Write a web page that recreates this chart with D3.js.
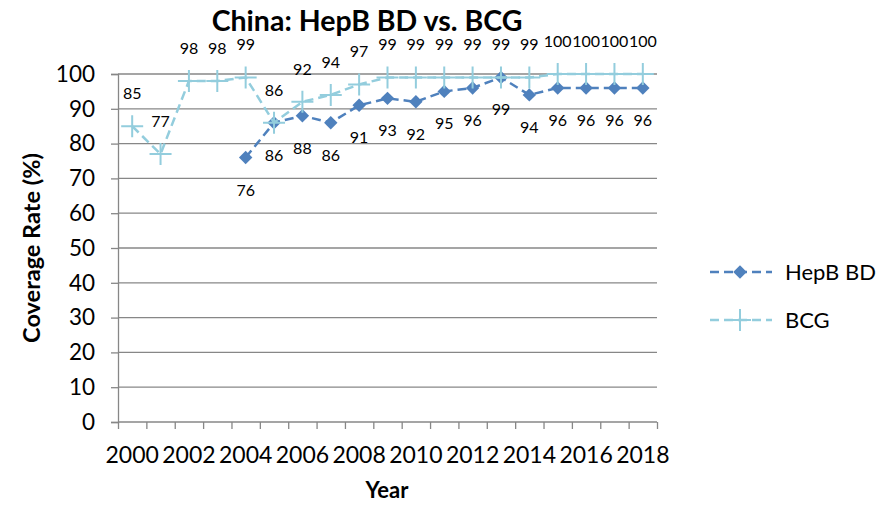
<!DOCTYPE html>
<html lang="en">
<head>
<meta charset="UTF-8">
<title>China: HepB BD vs. BCG</title>
<script src="https://cdn.jsdelivr.net/npm/d3@7"></script>
<style>
  body { margin: 0; background: #fff; }
  svg text { font-family: Lato, "Open Sans", sans-serif; fill: #000; }
</style>
</head>
<body>
<svg id="chart" width="882" height="505"></svg>
<script>
// data
const years = d3.range(2000, 2019);
const hepbYears = d3.range(2004, 2019);
const hepbValues = [76, 86, 88, 86, 91, 93, 92, 95, 96, 99, 94, 96, 96, 96, 96];
const bcgValues = [85, 77, 98, 98, 99, 86, 92, 94, 97, 99, 99, 99, 99, 99, 99, 100, 100, 100, 100];
const yTicks = d3.range(0, 101, 10);
const xLabels = years.filter(d => d % 2 === 0);

const svg = d3.select('#chart');
const plot = {left: 118, right: 657, top: 74, bottom: 422};

const x = d3.scaleBand().domain(years).range([plot.left, plot.right]);
const xEdge = d3.scaleLinear().domain([0, years.length]).range([plot.left, plot.right]);
const y = d3.scaleLinear().domain([0, 100]).range([plot.bottom, plot.top]);
const cx = d => x(d) + x.bandwidth() / 2;

const gridColor = '#878787';
const hepbColor = '#4f81bd';
const bcgColor = '#93cddd';

// gridlines
svg.append('g').selectAll('line').data(yTicks.filter(d => d > 0)).join('line')
  .attr('x1', plot.left).attr('x2', plot.right)
  .attr('y1', d => y(d)).attr('y2', d => y(d))
  .attr('stroke', gridColor).attr('stroke-width', 1.3);

// y axis
const yAxis = svg.append('g').attr('transform', `translate(${plot.left},0)`)
  .call(d3.axisLeft(y).tickValues(yTicks).tickSize(7).tickPadding(16));
yAxis.select('.domain').attr('stroke', gridColor).attr('stroke-width', 1.3);
yAxis.selectAll('.tick line').attr('stroke', gridColor).attr('stroke-width', 1.3);
yAxis.selectAll('.tick text').attr('font-size', 22.5).attr('font-family', null);

// x axis: ticks between categories, labels every two years
const xTickAxis = svg.append('g').attr('transform', `translate(0,${plot.bottom})`)
  .call(d3.axisBottom(xEdge).tickValues(d3.range(0, years.length + 1)).tickSize(7).tickFormat(''));
xTickAxis.select('.domain').attr('stroke', gridColor).attr('stroke-width', 1.3)
  .attr('d', `M${plot.left},0H${plot.right}`);
xTickAxis.selectAll('.tick line').attr('stroke', gridColor).attr('stroke-width', 1.3);

const xLabelAxis = svg.append('g').attr('transform', `translate(0,${plot.bottom})`)
  .call(d3.axisBottom(x).tickValues(xLabels).tickSize(0).tickPadding(25));
xLabelAxis.select('.domain').remove();
xLabelAxis.selectAll('.tick text').attr('font-size', 23).attr('font-family', null);

// axis titles
svg.append('text').attr('x', 387).attr('y', 498).attr('text-anchor', 'middle')
  .attr('font-size', 22).attr('font-weight', 'bold').text('Year');
svg.append('text').attr('transform', 'translate(40,248) rotate(-90)').attr('text-anchor', 'middle')
  .attr('font-size', 23.5).attr('font-weight', 'bold').text('Coverage Rate (%)');

// title
svg.append('text').attr('x', 367).attr('y', 31).attr('text-anchor', 'middle')
  .attr('font-size', 28.5).attr('font-weight', 'bold').text('China: HepB BD vs. BCG');

const diamond = d3.symbol().type(d3.symbolDiamond2).size(115);
const plus = (px, py, s) => `M${px - s},${py}H${px + s}M${px},${py - s}V${py + s}`;

// HepB BD series
const hepb = hepbYears.map((d, i) => ({year: d, value: hepbValues[i]}));
const bcg = years.map((d, i) => ({year: d, value: bcgValues[i]}));
const line = d3.line().x(d => cx(d.year)).y(d => y(d.value));

svg.append('path').datum(hepb).attr('d', line).attr('fill', 'none')
  .attr('stroke', hepbColor).attr('stroke-width', 2.5).attr('stroke-dasharray', '9,5');
svg.append('g').selectAll('path').data(hepb).join('path')
  .attr('d', diamond).attr('transform', d => `translate(${cx(d.year)},${y(d.value)})`)
  .attr('fill', hepbColor);

// BCG series (drawn on top)
svg.append('path').datum(bcg).attr('d', line).attr('fill', 'none')
  .attr('stroke', bcgColor).attr('stroke-width', 2.5).attr('stroke-dasharray', '9,5');
svg.append('g').selectAll('path').data(bcg).join('path')
  .attr('d', d => plus(cx(d.year), y(d.value), 11))
  .attr('stroke', bcgColor).attr('stroke-width', 2);

// data labels
svg.append('g').selectAll('text').data(hepb).join('text')
  .attr('x', d => cx(d.year)).attr('y', d => y(d.value) + 32 + 6)
  .attr('text-anchor', 'middle').attr('font-size', 16).text(d => d.value);
svg.append('g').selectAll('text').data(bcg).join('text')
  .attr('x', d => cx(d.year)).attr('y', d => y(d.value) - 33 + 6)
  .attr('text-anchor', 'middle').attr('font-size', 16).text(d => d.value);

// legend
const legend = svg.append('g');
const items = [
  {name: 'HepB BD', color: hepbColor, y: 272, marker: 'diamond'},
  {name: 'BCG', color: bcgColor, y: 320, marker: 'plus'}
];
items.forEach(it => {
  legend.append('line').attr('x1', 708).attr('x2', 772).attr('y1', it.y).attr('y2', it.y)
    .attr('stroke', it.color).attr('stroke-width', 2.5).attr('stroke-dasharray', '9,5')
    .attr('stroke-dashoffset', -2);
  if (it.marker === 'diamond') {
    legend.append('path').attr('d', diamond).attr('transform', `translate(740,${it.y})`).attr('fill', it.color);
  } else {
    legend.append('path').attr('d', plus(740, it.y, 11)).attr('stroke', it.color).attr('stroke-width', 2);
  }
  legend.append('text').attr('x', 785).attr('y', it.y + 8).attr('font-size', 22).text(it.name);
});
</script>
</body>
</html>
